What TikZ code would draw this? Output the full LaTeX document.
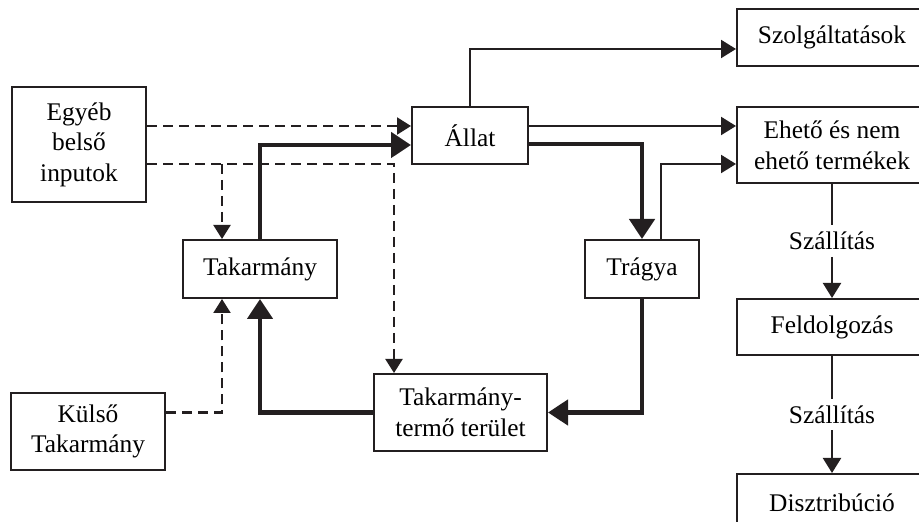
\documentclass[tikz,border=0pt]{standalone}
\usepackage{fontspec}
\setmainfont{Liberation Serif}
\usetikzlibrary{arrows.meta,calc,positioning}
\definecolor{linegrey}{RGB}{35,31,32}
\tikzset{
  box/.style={draw=linegrey,line width=1pt,fill=white,align=center,inner sep=2pt,
    font=\fontsize{12.7}{15.3}\selectfont},
  flow/.style={-{Triangle[length=7.5pt,width=9pt]},line width=1.1pt,draw=linegrey},
  feedflow/.style={-{Triangle[length=10pt,width=12.5pt]},line width=2.3pt,draw=linegrey},
  inflow/.style={-{Triangle[length=7pt,width=8.5pt]},line width=1.1pt,draw=linegrey,
    dash pattern=on 5pt off 3pt},
  plainline/.style={line width=1.1pt,draw=linegrey},
  smalllabel/.style={font=\fontsize{12.7}{15.3}\selectfont,inner sep=3.3pt}
}

\begin{document}
\begin{tikzpicture}[x=0.5pt,y=-0.5pt]
  \useasboundingbox (0,0) rectangle (919,522);
  \clip (0,0) rectangle (919,522);
  % farm side
  \node[box,minimum width=67pt,minimum height=57.5pt] (egyeb) at (79,144.5)
    {Egyéb\\belső\\inputok};
  \node[box,minimum width=58pt,minimum height=28.5pt] (allat) at (470,135.5) {Állat};
  \node[box,minimum width=77pt,minimum height=29pt] (takarm) at (260,269) {Takarmány};
  \node[box,minimum width=57pt,minimum height=29pt] (tragya) at (642,269) {Trágya};
  \node[box,minimum width=86.5pt,minimum height=38.5pt] (terulet) at (460.5,412.5)
    {Takarmány-\\termő terület};
  \node[box,minimum width=77pt,minimum height=38.5pt] (kulso) at (88,431.5)
    {Külső\\Takarmány};
  % chain on the right
  \node[box,minimum width=95pt,minimum height=38pt] (eheto) at (832,145)
    {Ehető és nem\\ehető termékek};
  \node[box,minimum width=95pt,minimum height=28.5pt,above=19.5pt of eheto] (szolg)
    {Szolgáltatások};
  \node[box,minimum width=95pt,minimum height=28pt,below=57pt of eheto] (feldolg)
    {Feldolgozás};
  \node[box,minimum width=95pt,minimum height=28.5pt,below=58.5pt of feldolg] (disztr)
    {Disztribúció};
  \node[smalllabel] (szall1) at ($(eheto.south)!0.5!(feldolg.north)$) {Szállítás};
  \node[smalllabel] (szall2) at ($(feldolg.south)!0.5!(disztr.north)$) {Szállítás};
  % knees of the connectors
  \coordinate (dashtop) at (0,126);
  \coordinate (dashknee) at (394,164);
  \coordinate (dashsplit) at (222,164);
  \coordinate (feedknee) at (260,145);
  \coordinate (svcknee) at (470,49);
  \coordinate (dungknee) at (642,144);
  \coordinate (prodknee) at (661,164);
  \draw[inflow] (egyeb.east |- dashtop) -- (allat.west |- dashtop);
  \draw[inflow] (egyeb.east |- dashknee) -- (dashknee) -- (terulet.north -| dashknee);
  \draw[inflow] (dashsplit) -- (takarm.north -| dashsplit);
  \draw[inflow] (kulso.east |- terulet.west) -| (takarm.south -| dashsplit);
  \draw[feedflow] (takarm.north) |- (allat.west |- feedknee);
  \draw[feedflow] (terulet.west) -| (takarm.south);
  \draw[feedflow] (allat.east |- dungknee) -| (tragya.north);
  \draw[feedflow] (tragya.south) |- (terulet.east);
  \draw[flow] (allat.north) |- (szolg.west |- svcknee);
  \draw[flow] (allat.east |- dashtop) -- (eheto.west |- dashtop);
  \draw[flow] (tragya.north -| prodknee) |- (eheto.west |- prodknee);
  \draw[plainline] (eheto) -- (szall1);
  \draw[flow] (szall1) -- (feldolg);
  \draw[plainline] (feldolg) -- (szall2);
  \draw[flow] (szall2) -- (disztr);
\end{tikzpicture}
\end{document}
